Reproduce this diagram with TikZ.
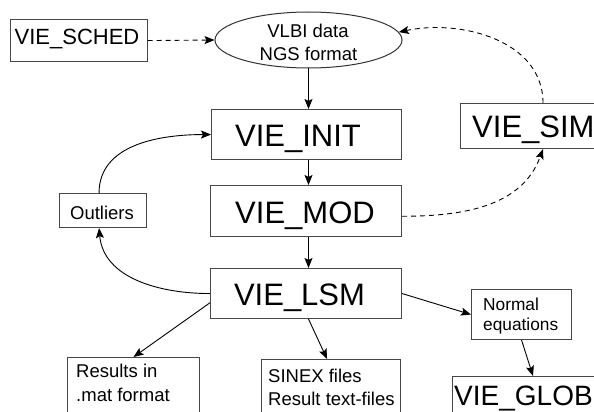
\documentclass[tikz,border=0pt]{standalone}
\usepackage{fontspec}
\setmainfont{Liberation Sans}
\usetikzlibrary{arrows.meta,calc,shapes.geometric}
\begin{document}
\begin{tikzpicture}[x=1pt,y=-1pt,
  box/.style={draw=black!72, line width=1.1pt, inner sep=0pt, anchor=north west},
  bigtxt/.style={inner sep=0pt, font=\fontsize{31}{37}\selectfont},
  midtxt/.style={inner sep=0pt, font=\fontsize{18.5}{23}\selectfont},
  smalltxt/.style={inner sep=0pt, font=\fontsize{17.3}{21}\selectfont},
  arr/.style={-{Stealth[length=10pt,width=8pt,inset=2pt]}, line width=0.9pt, black},
  darr/.style={arr, dash pattern=on 5pt off 4pt}
]
\useasboundingbox (0,0) rectangle (594,412);
\clip (0,0) rectangle (594,412);
\fill[white] (0,0) rectangle (594,412);

% boxes
\node[box, minimum width=137, minimum height=42] (sched) at (9.5,19) {};
\node[ellipse, draw=black!80, line width=1pt, inner sep=0pt, minimum width=187, minimum height=56] (ell) at (308.5,40) {};
\node[box, minimum width=190, minimum height=50] (init) at (211,109) {};
\node[box, minimum width=191, minimum height=51] (mod) at (210,185) {};
\node[box, minimum width=191, minimum height=50] (lsm) at (210,268) {};
\node[box, minimum width=180, minimum height=45] (sim) at (460,103) {};
\node[box, minimum width=87, minimum height=34] (outl) at (59,193) {};
\node[box, minimum width=100, minimum height=50] (normal) at (471,289) {};
\node[box, minimum width=132, minimum height=70] (results) at (67,357) {};
\node[box, minimum width=139, minimum height=70] (sinex) at (261,359) {};
\node[box, minimum width=170, minimum height=50] (glob) at (452,376) {};

% texts
\node[inner sep=0pt, anchor=base, font=\fontsize{22}{26}\selectfont] (schedT) at (77,45) {VIE\_SCHED};
\node[midtxt, anchor=base] (ellT1) at (308,37.5) {VLBI data};
\node[midtxt, anchor=base] (ellT2) at (308.5,60.5) {NGS format};
\node[bigtxt, anchor=base] (initT) at (298,146.5) {VIE\_INIT};
\node[bigtxt, anchor=base] (modT) at (305,223) {VIE\_MOD};
\node[bigtxt, anchor=base] (lsmT) at (299.5,305) {VIE\_LSM};
\node[bigtxt, anchor=base west] (simT) at (472,137) {VIE\_SIM};
\node[midtxt, anchor=base] (outlT) at (102,219) {Outliers};
\node[smalltxt, anchor=base west] (normT1) at (483,310) {Normal};
\node[smalltxt, anchor=base west] (normT2) at (483,330) {equations};
\node[midtxt, anchor=base west] (resT1) at (76,377) {Results in};
\node[midtxt, anchor=base west] (resT2) at (76,401) {.mat format};
\node[midtxt, anchor=base west] (sinT1) at (268,382) {SINEX files};
\node[midtxt, anchor=base west] (sinT2) at (268,405) {Result text-files};
\node[inner sep=0pt, anchor=base west, font=\fontsize{28}{34}\selectfont] (globT) at (454,405) {VIE\_GLOB};

% connectors
\draw[darr] (sched.east) -- (ell.west);
\draw[arr] (ell.south) -- (ell.south |- init.north);
\draw[arr] (init.south -| ell.south) -- (mod.north -| ell.south);
\draw[arr] (mod.south -| ell.south) -- (lsm.north -| ell.south);
\draw[darr] ($(sim.north west)+(83,0)$) to[out=90,in=12] (ell.5);
\draw[darr] ($(mod.north east)!0.6!(mod.south east)$) to[out=0,in=-110] ($(sim.south west)+(83,0)$);
\draw[arr] ([xshift=-4pt]outl.north) to[out=90,in=180] (init.west);
\draw[arr] (lsm.west) to[out=180,in=-85] ([xshift=-4pt]outl.south);
\draw[arr] ($(lsm.south west)!0.32!(lsm.north west)$) -- (results.north);
\draw[arr] ([xshift=2.5pt]lsm.south) -- ([xshift=-4pt]sinex.north);
\draw[arr] (lsm.east) -- (normal.west);
\draw[arr] (normal.south) -- ([xshift=81pt]glob.north west);
\end{tikzpicture}
\end{document}
